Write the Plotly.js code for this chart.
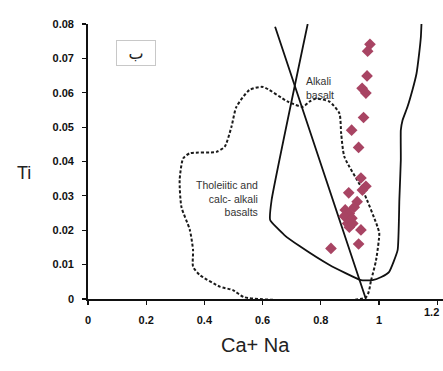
<!DOCTYPE html>
<html>
<head>
<meta charset="utf-8">
<script src="https://cdn.plot.ly/plotly-3.0.1.min.js"></script>
<style>html,body{margin:0;padding:0;background:#fff;}#chart{width:443px;height:371px;}</style>
</head>
<body>
<div id="chart"></div>
<script>
// Sample points (Ca+Na, Ti)
var sampleX = [0.969,0.961,0.959,0.942,0.955,0.947,0.906,0.930,0.938,0.955,0.943,0.896,0.925,0.915,0.884,0.898,0.881,0.907,0.892,0.910,0.898,0.938,0.930,0.835];
var sampleY = [0.0741,0.0721,0.0649,0.0613,0.0599,0.0528,0.0491,0.0441,0.0352,0.0328,0.0317,0.0309,0.0283,0.0267,0.0259,0.0249,0.0241,0.0235,0.0220,0.0220,0.0209,0.0201,0.0160,0.0147];

// Alkali basalt field boundary (solid U-shaped curve)
var alkaliX = [0.755,0.631,0.626,0.675,0.727,0.830,0.938,0.978,1.008,1.035,1.064,1.070,1.075,1.075,1.081,1.098,1.115,1.129,1.138,1.144,1.146];
var alkaliY = [0.0800,0.0288,0.0230,0.0186,0.0154,0.0099,0.0055,0.0055,0.0064,0.0079,0.0142,0.0288,0.0404,0.0491,0.0520,0.0559,0.0608,0.0656,0.0714,0.0763,0.0800];

// Straight dividing line
var lineX = [0.643,0.955];
var lineY = [0.0792,0.0000];

// Tholeiitic and calc-alkali basalts field (dashed)
var tholX = [0.955,0.973,0.990,1.001,0.995,0.944,0.881,0.870,0.864,0.830,0.784,0.761,0.738,0.687,0.601,0.555,0.510,0.493,0.470,0.441,0.350,0.327,0.315,0.321,0.350,0.361,0.361,0.384,0.453,0.498,0.538,0.955];
var tholY = [0.0005,0.0055,0.0113,0.0191,0.0210,0.0317,0.0414,0.0482,0.0540,0.0574,0.0583,0.0574,0.0559,0.0574,0.0617,0.0608,0.0559,0.0501,0.0443,0.0428,0.0424,0.0409,0.0346,0.0268,0.0201,0.0142,0.0094,0.0070,0.0036,0.0026,0.0005,0.0005];

var xTicks = [0,0.2,0.4,0.6,0.8,1,1.2];
var xTickText = ['0','0.2','0.4','0.6','0.8','1',''];
var lastXTickLabel = '1.2';
var yTicks = [0,0.01,0.02,0.03,0.04,0.05,0.06,0.07,0.08];
var yTickText = ['0','0.01','0.02','0.03','0.04','0.05','0.06','0.07','0.08'];

var FONT = 'Arial, "Liberation Sans", sans-serif';

var traces = [
  {x: tholX, y: tholY, mode: 'lines', line: {color: '#1a1a1a', width: 2, dash: '3px,2px', shape: 'spline', smoothing: 0.6}, hoverinfo: 'skip'},
  {x: alkaliX, y: alkaliY, mode: 'lines', line: {color: '#111', width: 1.8, shape: 'spline', smoothing: 0.4}, hoverinfo: 'skip'},
  {x: lineX, y: lineY, mode: 'lines', line: {color: '#111', width: 1.8}, hoverinfo: 'skip'},
  {x: sampleX, y: sampleY, mode: 'markers', marker: {symbol: 'diamond', size: 9, color: '#a84463', line: {width: 0}}}
];

var layout = {
  width: 443, height: 371,
  margin: {l: 88, r: 0, t: 24, b: 72},
  paper_bgcolor: '#fff', plot_bgcolor: '#fff',
  showlegend: false,
  font: {family: FONT, color: '#111'},
  xaxis: {
    range: [0, 1.22], tickvals: xTicks, ticktext: xTickText,
    showgrid: false, zeroline: false, showline: true, linecolor: '#111', linewidth: 1.8,
    ticks: 'outside', ticklen: 4, tickcolor: '#111', tickwidth: 1.2,
    tickfont: {family: FONT, size: 11, color: '#111', weight: 'bold'},
    ticklabelstandoff: 6
  },
  yaxis: {
    range: [0, 0.08], tickvals: yTicks, ticktext: yTickText,
    showgrid: false, zeroline: false, showline: true, linecolor: '#111', linewidth: 1.8,
    ticks: 'outside', ticklen: 4, tickcolor: '#111', tickwidth: 1.2,
    tickfont: {family: FONT, size: 11, color: '#111', weight: 'bold'},
    ticklabelstandoff: 6
  },
  annotations: [
    {xref: 'x', yref: 'paper', x: xTicks[xTicks.length-1], y: (299-320)/275, xshift: -6, text: lastXTickLabel, showarrow: false, font: {family: FONT, size: 11, color: '#111', weight: 'bold'}},
    {xref: 'paper', yref: 'paper', x: (15-88)/355, y: (299-173)/275, text: 'Ti', showarrow: false, font: {family: FONT, size: 18, color: '#222'}},
    {xref: 'paper', yref: 'paper', x: (255-88)/355, y: (299-358)/275, text: 'Ca+ Na', showarrow: false, font: {family: FONT, size: 20, color: '#222'}},
    {xref: 'paper', yref: 'paper', x: (116-88)/355, y: (299-40)/275, text: 'ب', showarrow: false, font: {family: '"DejaVu Sans", sans-serif', size: 16, color: '#222'}, bordercolor: '#c8c8c8', borderwidth: 1, bgcolor: '#fff', width: 36, height: 22},
    {xref: 'paper', yref: 'paper', x: (304-88)/355, y: (299-73)/275, xanchor: 'left', yanchor: 'top', align: 'left', text: 'Alkali<br>basalt', showarrow: false, font: {family: FONT, size: 10.5, color: '#333'}},
    {xref: 'paper', yref: 'paper', x: (260-88)/355, y: (299-177)/275, xanchor: 'right', yanchor: 'top', align: 'right', text: 'Tholeiitic and<br>calc- alkali<br>basalts', showarrow: false, font: {family: FONT, size: 10.5, color: '#333'}}
  ]
};

Plotly.newPlot('chart', traces, layout, {displayModeBar: false, staticPlot: true});
</script>
</body>
</html>
